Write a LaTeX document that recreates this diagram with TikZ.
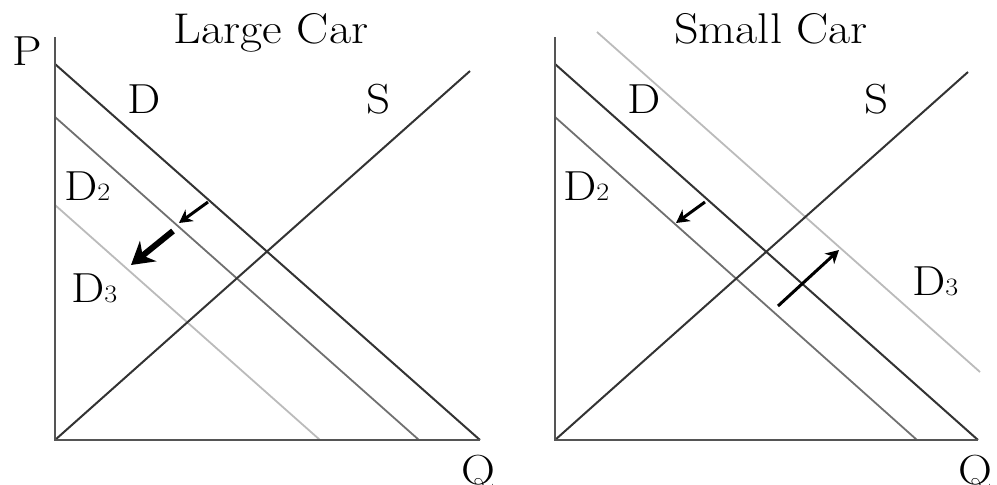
\documentclass[tikz,border=0pt]{standalone}
\usetikzlibrary{arrows.meta}
\definecolor{axisc}{HTML}{555555}
\definecolor{dcol}{HTML}{333333}
\definecolor{d2col}{HTML}{707070}
\definecolor{d3col}{HTML}{BBBBBB}
\tikzset{
  lbl/.style={anchor=base west, inner sep=0pt, font=\fontsize{42}{50}\selectfont},
  ttl/.style={anchor=base, inner sep=0pt, font=\fontsize{43}{52}\selectfont},
  axisline/.style={draw=axisc, line width=2.2pt},
  dline/.style={draw=dcol, line width=2pt},
  d2line/.style={draw=d2col, line width=1.8pt},
  d3line/.style={draw=d3col, line width=1.8pt},
  sline/.style={draw=dcol, line width=2pt},
  thinarrow/.style={draw=black, line width=3pt, -{Stealth[length=13pt,width=14pt,inset=4pt]}},
  thickarrow/.style={draw=black, line width=6pt, -{Stealth[length=22pt,width=26pt,inset=7pt]}}
}
\newcommand{\sm}[1]{{\fontsize{25}{30}\selectfont #1}}
\newcommand{\widetxt}[1]{\scalebox{1.12}[1]{#1}}
\begin{document}
\begin{tikzpicture}[x=1pt,y=-1pt]
\useasboundingbox (0,0) rectangle (997,485);
% ---------- Left panel ----------
\coordinate (LO) at (55,440);
\coordinate (LPtop) at (55,37);
\coordinate (LQend) at (480,440);
\coordinate (LDa) at (55,64);
\coordinate (LDb) at (480,440);
\coordinate (LD2a) at (55,117);
\coordinate (LD2b) at (419,440);
\coordinate (LD3a) at (55,205);
\coordinate (LD3b) at (320,440);
\coordinate (LSb) at (470,71);
\path[d3line] (LD3a) -- (LD3b);
\path[d2line] (LD2a) -- (LD2b);
\path[dline] (LDa) -- (LDb);
\path[sline] (LO) -- (LSb);
\path[axisline] (LPtop) -- (LO) -- (LQend);
\coordinate (LA1s) at (208,202);
\coordinate (LA1e) at (179,223);
\path[thinarrow] (LA1s) -- (LA1e);
\coordinate (LA2s) at (173,231);
\coordinate (LA2e) at (131,265);
\path[thickarrow] (LA2s) -- (LA2e);
\node[ttl] (ltitle) at (271,43) {\widetxt{Large Car}};
\node[lbl] (lP) at (12,65) {\widetxt{P}};
\node[lbl] (lQ) at (461,484) {\widetxt{Q}};
\node[lbl] (lD) at (127,113) {\widetxt{D}};
\node[lbl] (lS) at (366,113) {\widetxt{S}};
\node[lbl] (lD2) at (64,200) {\widetxt{D\sm{2}}};
\node[lbl] (lD3) at (71,302) {\widetxt{D\sm{3}}};
% ---------- Right panel ----------
\coordinate (RO) at (555,440);
\coordinate (RPtop) at (555,37);
\coordinate (RQend) at (978,440);
\coordinate (RDa) at (555,64);
\coordinate (RDb) at (978,440);
\coordinate (RD2a) at (555,117);
\coordinate (RD2b) at (917,440);
\coordinate (RD3a) at (597,32);
\coordinate (RD3b) at (980,372);
\coordinate (RSb) at (968,72);
\path[d3line] (RD3a) -- (RD3b);
\path[d2line] (RD2a) -- (RD2b);
\path[dline] (RDa) -- (RDb);
\path[sline] (RO) -- (RSb);
\path[axisline] (RPtop) -- (RO) -- (RQend);
\coordinate (RA1s) at (705,202);
\coordinate (RA1e) at (676,223);
\path[thinarrow] (RA1s) -- (RA1e);
\coordinate (RA2s) at (778,306);
\coordinate (RA2e) at (839,250);
\path[thinarrow] (RA2s) -- (RA2e);
\node[ttl] (rtitle) at (771,43) {\widetxt{Small Car}};
\node[lbl] (rQ) at (958,484) {\widetxt{Q}};
\node[lbl] (rD) at (627,113) {\widetxt{D}};
\node[lbl] (rS) at (864,113) {\widetxt{S}};
\node[lbl] (rD2) at (563,200) {\widetxt{D\sm{2}}};
\node[lbl] (rD3) at (912,295) {\widetxt{D\sm{3}}};
\end{tikzpicture}
\end{document}
